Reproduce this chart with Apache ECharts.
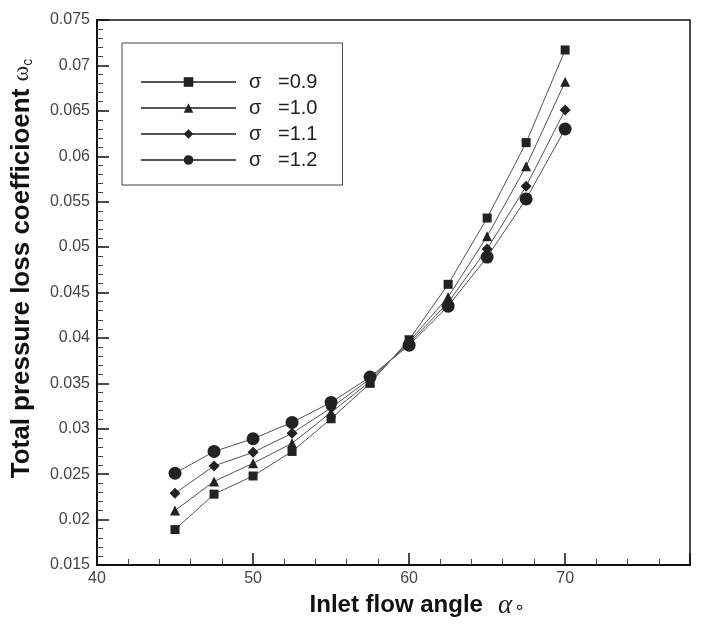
<!DOCTYPE html>
<html><head><meta charset="utf-8">
<script src="https://cdn.jsdelivr.net/npm/echarts@6/dist/echarts.min.js"></script>
<style>html,body{margin:0;padding:0;background:#fff}#c{width:701px;height:626px}</style>
</head><body><div id="c"></div>
<script>
const angles = [45, 47.5, 50, 52.5, 55, 57.5, 60, 62.5, 65, 67.5, 70];
const sigma09 = [0.0189, 0.0228, 0.0248, 0.0275, 0.0311, 0.0350, 0.0398, 0.0459, 0.0532, 0.0615, 0.0717];
const sigma10 = [0.0210, 0.0242, 0.0262, 0.0284, 0.0318, 0.0352, 0.0396, 0.0445, 0.0512, 0.0589, 0.0682];
const sigma11 = [0.0229, 0.0259, 0.0274, 0.0295, 0.0323, 0.0355, 0.0394, 0.0439, 0.0498, 0.0567, 0.0651];
const sigma12 = [0.0251, 0.0275, 0.0289, 0.0307, 0.0329, 0.0357, 0.0392, 0.0435, 0.0489, 0.0553, 0.0630];
const seriesNames = ['σ   =0.9', 'σ   =1.0', 'σ   =1.1', 'σ   =1.2'];
const xTicks = [40, 50, 60, 70];

const chart = echarts.init(document.getElementById('c'));
function mk(name, vals, sym, size) {
  return {
    name: name, type: 'line', symbol: sym, symbolSize: size,
    data: angles.map((a, i) => [a, vals[i]]),
    lineStyle: { color: '#555', width: 1 },
    itemStyle: { color: '#222' },
    emphasis: { disabled: true }
  };
}
chart.setOption({
  animation: false,
  backgroundColor: '#fff',
  grid: { left: 97, right: 11, top: 20, bottom: 61, show: true, borderColor: '#111', borderWidth: 1.5,
    containLabel: false, outerBoundsMode: 'none' },
  legend: {
    left: 122, top: 43, width: 190, orient: 'vertical',
    backgroundColor: '#fff', borderColor: '#444', borderWidth: 1,
    padding: [29, 25, 15, 18], itemGap: 6, itemWidth: 95, itemHeight: 12,
    textStyle: { fontFamily: 'Liberation Sans, Arial', fontSize: 20, lineHeight: 17, color: '#222', padding: [0, 0, 0, 8] },
    data: seriesNames
  },
  xAxis: {
    type: 'value', min: 40, max: 78, interval: 10,
    axisLine: { lineStyle: { color: '#111', width: 2 } },
    axisTick: { inside: true, length: 12, lineStyle: { color: '#111', width: 1.5 } },
    minorTick: { show: true, splitNumber: 5, length: 6, lineStyle: { color: '#444' } },
    splitLine: { show: false },
    axisLabel: { showMaxLabel: false, fontFamily: 'Liberation Sans, Arial', fontSize: 16, color: '#444', margin: 6,
      formatter: v => xTicks.indexOf(v) >= 0 ? String(v) : '' },
    name: '{a|Inlet flow angle}{g|}{b|α}{d|∘}',
    nameLocation: 'middle', nameGap: 27,
    nameTextStyle: {
      padding: [0, 0, 0, 48],
      rich: {
        a: { fontFamily: 'Liberation Sans, Arial', fontWeight: 'bold', fontSize: 24, color: '#111' },
        g: { width: 15 },
        b: { fontFamily: 'Liberation Serif, DejaVu Serif, serif', fontStyle: 'italic', fontSize: 27, color: '#222' },
        d: { fontFamily: 'DejaVu Sans, sans-serif', fontSize: 18, color: '#222', padding: [6, 0, 0, 2] }
      }
    }
  },
  yAxis: {
    type: 'value', min: 0.015, max: 0.075, interval: 0.005,
    axisLine: { lineStyle: { color: '#111', width: 2 } },
    axisTick: { inside: true, length: 12, lineStyle: { color: '#111', width: 1.5 } },
    minorTick: { show: true, splitNumber: 5, length: 6, lineStyle: { color: '#444' } },
    splitLine: { show: false },
    axisLabel: { fontFamily: 'Liberation Sans, Arial', fontSize: 16, color: '#444', margin: 7 },
    name: '{a|Total pressure loss coefficioent }{b|ω}{c|c}',
    nameLocation: 'middle', nameGap: 62,
    nameTextStyle: {
      padding: [0, 0, 0, 48],
      rich: {
        a: { fontFamily: 'Liberation Sans, Arial', fontWeight: 'bold', fontSize: 26, color: '#111' },
        b: { fontFamily: 'Liberation Serif, DejaVu Serif, serif', fontSize: 24, color: '#222' },
        c: { fontFamily: 'Liberation Sans, Arial', fontSize: 14, color: '#222', padding: [12, 0, 0, 0] }
      }
    }
  },
  series: [
    mk(seriesNames[0], sigma09, 'rect', 9),
    mk(seriesNames[1], sigma10, 'triangle', 10),
    mk(seriesNames[2], sigma11, 'diamond', 11),
    mk(seriesNames[3], sigma12, 'circle', 13)
  ]
});
</script></body></html>
